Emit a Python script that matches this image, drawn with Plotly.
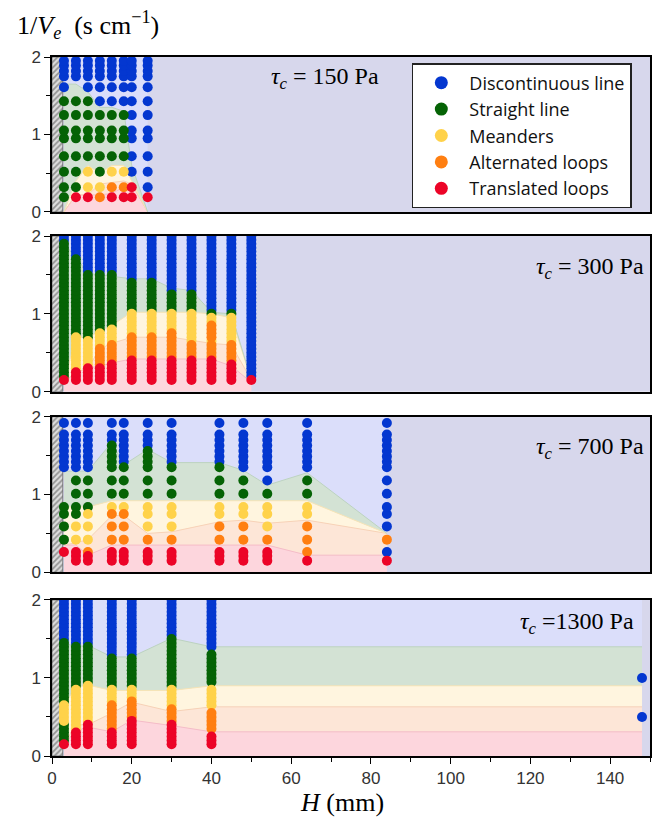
import plotly.graph_objects as go

# ---------------------------------------------------------------------------
# Regimes: key, legend name, marker colour, band fill, band edge colour
# ---------------------------------------------------------------------------
REGIME_ORDER = ["B", "G", "Y", "O", "R"]
REGIME_NAME = {
    "B": "Discontinuous line",
    "G": "Straight line",
    "Y": "Meanders",
    "O": "Alternated loops",
    "R": "Translated loops",
}
MARKER_COLOR = {"B": "#0437d0", "G": "#056305", "Y": "#ffd24a", "O": "#ff7f11", "R": "#ec0427"}
BAND_FILL = {"R": "#fdd6dd", "O": "#fde6d7", "Y": "#fff5df", "G": "#d3e2d4", "B": "#dbdefa"}
BAND_EDGE = {"R": "#f6bcc7", "O": "#f8d2b6", "Y": "#f6e4b6", "G": "#bcd3bf"}

# ---------------------------------------------------------------------------
# Data: tau_c = 150 Pa
# ---------------------------------------------------------------------------
h_150 = [3, 6, 9, 12, 15, 18, 20, 24]
inv_v_150 = [0.19, 0.32, 0.52, 0.72, 0.95, 1.05, 1.25, 1.43, 1.61, 1.75, 1.82, 1.89, 1.95]
# one code per 1/Ve level (bottom -> top); "." = no run
codes_150 = [
    "GGGGGGGGBBBBB",
    "RGGGGGGG.BBBB",
    "RYYGGGGGBBBBB",
    "OYGGGGGBBBBBB",
    "ROYGGGGBBBBBB",
    "ROYGGGGBBBBBB",
    "RRBBBBBBBBBBB",
    "RBBBBBBBBBBBB",
]
bands_150 = {
    "R": [0.00, 0.22, 0.22, 0.22, 0.24, 0.32, 0.36, 0.00],
    "O": [0.00, 0.22, 0.22, 0.36, 0.38, 0.40, 0.36, 0.00],
    "Y": [0.00, 0.40, 0.60, 0.50, 0.60, 0.60, 0.40, 0.00],
    "G": [1.65, 1.65, 1.55, 1.35, 1.35, 1.30, 0.60, 0.00],
}

# ---------------------------------------------------------------------------
# Data: fine 1/Ve sweep used for tau_c = 300 Pa and 1300 Pa
# ---------------------------------------------------------------------------
inv_v_fine = [0.15, 0.20, 0.25, 0.30, 0.35, 0.40, 0.45, 0.50, 0.55, 0.60,
              0.65, 0.70, 0.75, 0.80, 0.85, 0.90, 0.95, 1.00, 1.05, 1.10,
              1.15, 1.20, 1.25, 1.30, 1.35, 1.40, 1.45, 1.50, 1.55, 1.60,
              1.65, 1.70, 1.75, 1.80, 1.85, 1.90, 1.95, 2.00]

# tau_c = 300 Pa (runs of regime, count along inv_v_fine)
h_300 = [3, 6, 9, 12, 15, 20, 25, 30, 35, 40, 45, 50]
runs_300 = [
    [("R", 1), ("G", 35), ("B", 2)],
    [("R", 3), ("Y", 9), ("G", 20), ("B", 6)],
    [("R", 4), ("Y", 7), ("G", 17), ("B", 10)],
    [("R", 4), ("O", 5), ("Y", 4), ("G", 15), ("B", 10)],
    [("R", 5), ("O", 5), ("Y", 4), ("G", 14), ("B", 10)],
    [("R", 6), ("O", 6), ("Y", 6), ("G", 8), ("B", 12)],
    [("R", 6), ("O", 6), ("Y", 6), ("G", 8), ("B", 12)],
    [("R", 6), ("O", 7), ("Y", 5), ("G", 5), ("B", 15)],
    [("R", 6), ("O", 4), ("Y", 8), ("G", 5), ("B", 15)],
    [("R", 6), ("O", 4), ("Y", 1), ("O", 4), ("Y", 2), ("G", 1), ("B", 20)],
    [("R", 5), ("O", 5), ("Y", 7), ("G", 1), ("B", 20)],
    [("R", 1), ("B", 37)],
]
bands_300 = {
    "R": [0.12, 0.25, 0.30, 0.33, 0.37, 0.42, 0.42, 0.42, 0.42, 0.42, 0.33, 0.12],
    "O": [0.12, 0.25, 0.30, 0.55, 0.62, 0.70, 0.70, 0.70, 0.66, 0.62, 0.60, 0.15],
    "Y": [0.12, 0.70, 0.70, 0.77, 0.85, 1.02, 1.02, 1.02, 1.02, 1.00, 0.95, 0.15],
    "G": [1.90, 1.73, 1.52, 1.50, 1.48, 1.45, 1.45, 1.33, 1.30, 1.02, 1.00, 0.15],
}

# ---------------------------------------------------------------------------
# Data: tau_c = 700 Pa
# ---------------------------------------------------------------------------
h_700 = [3, 6, 9, 15, 18, 24, 30, 42, 48, 54, 64, 84]
inv_v_700 = [0.15, 0.21, 0.26, 0.42, 0.59, 0.75, 0.84, 1.01, 1.18, 1.35,
             1.42, 1.49, 1.56, 1.63, 1.70, 1.77, 1.92]
codes_700 = [
    "..RGGGG..BBBBBBBB",
    "RRRYYGGGGBBBBBBBB",
    "RROYYYGGGBBBBBBBB",
    "RRROOOYGGGGGGGBBB",
    "RRROOOYGGGBBBBBBB",
    "RRROYYYGGGGGGBBBB",
    "RRROYYYGGGBBBBBBB",
    "RRROOYYGGGBBBBBBB",
    "RRROOYYGGBBBBBBBB",
    "RRROYYYGBBBBBBBBB",
    "R.OOOYYGGBBBBBBBB",
    "R.BOBBBBBBBBBBBBB",
]
bands_700 = {
    "R": [0.35, 0.35, 0.22, 0.35, 0.35, 0.35, 0.35, 0.35, 0.35, 0.35, 0.22, 0.22],
    "O": [0.35, 0.38, 0.42, 0.73, 0.73, 0.50, 0.52, 0.65, 0.67, 0.63, 0.67, 0.50],
    "Y": [0.84, 0.84, 0.84, 0.92, 0.92, 0.92, 0.92, 0.92, 0.92, 0.92, 0.92, 0.50],
    "G": [1.30, 1.30, 1.30, 1.67, 1.38, 1.58, 1.41, 1.41, 1.31, 1.12, 1.28, 0.50],
}

# ---------------------------------------------------------------------------
# Data: tau_c = 1300 Pa
# ---------------------------------------------------------------------------
h_1300 = [3, 6, 9, 15, 20, 30, 40]
runs_1300 = [
    [("R", 1), ("G", 5), ("Y", 5), ("G", 16), ("B", 11)],
    [("R", 4), ("Y", 11), ("G", 11), ("B", 12)],
    [("R", 6), ("Y", 10), ("G", 10), ("B", 12)],
    [("R", 4), ("O", 7), ("Y", 4), ("G", 8), ("B", 15)],
    [("R", 7), ("O", 5), ("Y", 3), ("G", 8), ("B", 15)],
    [("R", 6), ("O", 4), ("Y", 5), ("G", 13), ("B", 10)],
    [("R", 3), (".", 1), ("O", 5), (".", 1), ("Y", 5), (".", 1), ("G", 8), (".", 1), ("B", 13)],
]
# isolated runs at the widest gap
h_1300_wide = [148, 148]
inv_v_1300_wide = [0.50, 1.00]
regime_1300_wide = ["B", "B"]
# regime map extends to the widest gap
h_1300_bands = [3, 6, 9, 15, 20, 30, 40, 148]
bands_1300 = {
    "R": [0.15, 0.32, 0.37, 0.31, 0.46, 0.39, 0.31, 0.31],
    "O": [0.15, 0.40, 0.40, 0.55, 0.69, 0.57, 0.63, 0.63],
    "Y": [0.65, 0.88, 0.91, 0.84, 0.84, 0.84, 0.90, 0.90],
    "G": [1.45, 1.40, 1.42, 1.27, 1.27, 1.51, 1.40, 1.40],
}

H_MAX = 150
Y_MAX = 2
WALL = 2.7  # hatched wall thickness (mm)


def expand(runs):
    return "".join(code * n for code, n in runs)


def points(h_list, levels, code_list):
    pts = {k: ([], []) for k in REGIME_ORDER}
    for h, codes in zip(h_list, code_list):
        for y, c in zip(levels, codes):
            if c in pts:
                pts[c][0].append(h)
                pts[c][1].append(y)
    return pts


panels = [
    dict(tau="150", h_bands=h_150, bands=bands_150,
         pts=points(h_150, inv_v_150, codes_150)),
    dict(tau="300", h_bands=h_300, bands=bands_300,
         pts=points(h_300, inv_v_fine, [expand(r) for r in runs_300])),
    dict(tau="700", h_bands=h_700, bands=bands_700,
         pts=points(h_700, inv_v_700, codes_700)),
    dict(tau="1300", h_bands=h_1300_bands, bands=bands_1300,
         pts=points(h_1300, inv_v_fine, [expand(r) for r in runs_1300])),
]
for h, y, c in zip(h_1300_wide, inv_v_1300_wide, regime_1300_wide):
    panels[3]["pts"][c][0].append(h)
    panels[3]["pts"][c][1].append(y)

# vertical domains (paper fraction), top panel first
domains = [[0.7783, 1.0], [0.5212, 0.7439], [0.2628, 0.4854], [0.0, 0.2232]]

fig = go.Figure()

for i, p in enumerate(panels):
    xa = "x" if i == 0 else f"x{i + 1}"
    ya = "y" if i == 0 else f"y{i + 1}"
    hb = p["h_bands"]
    b = p["bands"]
    zero = [0] * len(hb)
    top = [Y_MAX] * len(hb)
    lower_upper = [("R", zero, b["R"]), ("O", b["R"], b["O"]), ("Y", b["O"], b["Y"]),
                   ("G", b["Y"], b["G"]), ("B", b["G"], top)]
    # regime bands
    for key, lo, hi in lower_upper:
        fig.add_trace(go.Scatter(
            x=list(hb) + list(hb[::-1]), y=list(hi) + list(lo[::-1]),
            fill="toself", fillcolor=BAND_FILL[key], mode="lines",
            line=dict(width=0), hoverinfo="skip", showlegend=False,
            xaxis=xa, yaxis=ya))
    for key in ["R", "O", "Y", "G"]:
        fig.add_trace(go.Scatter(
            x=hb, y=b[key], mode="lines", line=dict(color=BAND_EDGE[key], width=1),
            hoverinfo="skip", showlegend=False, xaxis=xa, yaxis=ya))
    # hatched wall
    fig.add_trace(go.Scatter(
        x=[0, WALL, WALL, 0, 0], y=[0, 0, Y_MAX, Y_MAX, 0], fill="toself",
        mode="lines", line=dict(color="#666666", width=0.8),
        fillcolor="#d4d4d4",
        fillpattern=dict(shape="/", fgcolor="#444444", bgcolor="#dedede", size=4, solidity=0.45),
        hoverinfo="skip", showlegend=False, xaxis=xa, yaxis=ya))
    # observed regimes
    for key in ["B", "G", "Y", "O", "R"]:
        xs, ys = p["pts"][key]
        if not xs:
            continue
        fig.add_trace(go.Scatter(
            x=xs, y=ys, mode="markers",
            marker=dict(color=MARKER_COLOR[key], size=10, line=dict(width=0)),
            name=REGIME_NAME[key], legendgroup=key, showlegend=False,
            xaxis=xa, yaxis=ya))

# legend entries
for key in REGIME_ORDER:
    fig.add_trace(go.Scatter(
        x=[None], y=[None], mode="markers",
        marker=dict(color=MARKER_COLOR[key], size=13),
        name=REGIME_NAME[key], legendgroup=key, showlegend=True))

axis_font = dict(family="Liberation Sans, Arial, sans-serif", size=17, color="#333333")
layout = dict(
    width=659, height=822,
    margin=dict(l=52, r=7, t=57, b=66),
    paper_bgcolor="white", plot_bgcolor="#d7d7ec",
    showlegend=True,
    legend=dict(x=0.6017, y=0.9914, xanchor="left", yanchor="top",
                bgcolor="white", bordercolor="#222222", borderwidth=1.5,
                font=dict(family="Open Sans, Liberation Sans, Arial, sans-serif", size=18, color="#111111"),
                tracegroupgap=0, itemsizing="trace", itemwidth=46),
)

for i in range(4):
    xkey = "xaxis" if i == 0 else f"xaxis{i + 1}"
    ykey = "yaxis" if i == 0 else f"yaxis{i + 1}"
    xanchor = "y" if i == 0 else f"y{i + 1}"
    yanchor = "x" if i == 0 else f"x{i + 1}"
    bottom = i == 3
    layout[xkey] = dict(
        range=[0, H_MAX], anchor=xanchor, showgrid=False, zeroline=False,
        showline=True, linecolor="black", linewidth=1.5, mirror=True,
        showticklabels=bottom, ticks="outside" if bottom else "",
        tick0=0, dtick=20, ticklen=6, tickcolor="black",
        minor=dict(dtick=10, ticks="outside" if bottom else "", ticklen=4, tickcolor="black"),
        tickfont=axis_font,
    )
    if i > 0:
        layout[xkey]["matches"] = "x"
    layout[ykey] = dict(
        range=[0, Y_MAX], domain=domains[i], anchor=yanchor,
        tickvals=[0, 1, 2], ticks="outside", ticklen=6, tickcolor="black",
        minor=dict(tickvals=[0.5, 1.5], ticks="outside", ticklen=4, tickcolor="black"),
        showgrid=False, zeroline=False, showline=True, linecolor="black",
        linewidth=1.5, mirror=True, tickfont=axis_font,
    )

fig.update_layout(**layout)

serif = "Liberation Serif, Times New Roman, serif"
tau_pos = [(54.5, 1.73, "left", " = "), (149.0, 1.59, "right", " = "),
           (149.0, 1.60, "right", " = "), (146.5, 1.70, "right", " =")]
for i, (p, (tx, ty, anchor, eq)) in enumerate(zip(panels, tau_pos)):
    xr = "x" if i == 0 else f"x{i + 1}"
    yr = "y" if i == 0 else f"y{i + 1}"
    fig.add_annotation(
        x=tx, y=ty, xref=xr, yref=yr, xanchor=anchor, yanchor="middle",
        text=f"<i>τ</i><sub><i>c</i></sub>{eq}{p['tau']} Pa", showarrow=False,
        font=dict(family=serif, size=24, color="black"))

fig.add_annotation(
    x=-0.062, y=1.046, xref="paper", yref="paper", xanchor="left", yanchor="middle",
    text="1/<i>V</i><sub><i>e</i></sub>  (s cm<sup>−1</sup>)", showarrow=False,
    font=dict(family=serif, size=26, color="black"))
fig.add_annotation(
    x=0.485, y=-0.066, xref="paper", yref="paper", xanchor="center", yanchor="middle",
    text="<i>H</i> (mm)", showarrow=False,
    font=dict(family=serif, size=26, color="black"))

fig.write_html("out.html")
